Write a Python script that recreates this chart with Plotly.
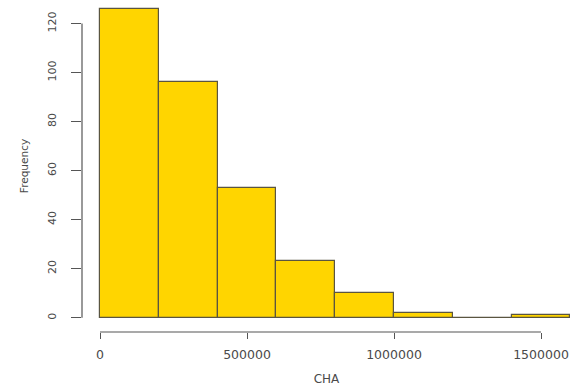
import plotly.graph_objects as go

# Histogram of CHA: bin edges and counts per bin
bin_edges = [0, 200000, 400000, 600000, 800000, 1000000, 1200000, 1400000, 1600000]
counts = [126, 96, 53, 23, 10, 2, 0, 1]

x_tickvals = [0, 500000, 1000000, 1500000]
x_ticktext = ["0", "500000", "1000000", "1500000"]
y_tickvals = [0, 20, 40, 60, 80, 100, 120]

centers = [(a + b) / 2 for a, b in zip(bin_edges[:-1], bin_edges[1:])]
widths = [b - a for a, b in zip(bin_edges[:-1], bin_edges[1:])]

fig = go.Figure(
    go.Bar(
        x=centers,
        y=counts,
        width=widths,
        marker=dict(color="#FFD500", line=dict(color="#5a5540", width=1.2)),
    )
)

FAMILY = "DejaVu Sans, Verdana, sans-serif"
text_color = "#4a4a4a"

fig.update_layout(
    width=571,
    height=390,
    margin=dict(l=82, r=0, t=0, b=58),
    plot_bgcolor="white",
    paper_bgcolor="white",
    showlegend=False,
    bargap=0,
    xaxis=dict(
        range=[-61224, 1602041],
        tickvals=x_tickvals,
        ticktext=x_ticktext,
        ticks="outside",
        ticklen=6,
        tickcolor="#555555",
        tickwidth=1.2,
        showline=False,
        showgrid=False,
        zeroline=False,
        tickfont=dict(family=FAMILY, size=12.5, color=text_color),
        ticklabelstandoff=5,
        title=dict(text="CHA", font=dict(family=FAMILY, size=12, color=text_color), standoff=13),
    ),
    yaxis=dict(
        range=[-5.8, 129.6],
        tickvals=y_tickvals,
        ticks="outside",
        ticklen=10,
        tickcolor="#555555",
        tickwidth=1.2,
        tickangle=-90,
        showline=False,
        showgrid=False,
        zeroline=False,
        tickfont=dict(family=FAMILY, size=11, color=text_color),
        ticklabelstandoff=11,
        title=dict(text="Frequency", font=dict(family=FAMILY, size=10.5, color=text_color), standoff=14),
    ),
    shapes=[
        # x axis line spanning the tick range
        dict(type="line", xref="x", yref="paper", x0=0, x1=1500000, y0=0, y1=0,
             line=dict(color="#555555", width=1.2)),
        # y axis line spanning the tick range
        dict(type="line", xref="paper", yref="y", x0=0, x1=0, y0=0, y1=120,
             line=dict(color="#555555", width=1.2)),
    ],
)

fig.write_html("out.html")
